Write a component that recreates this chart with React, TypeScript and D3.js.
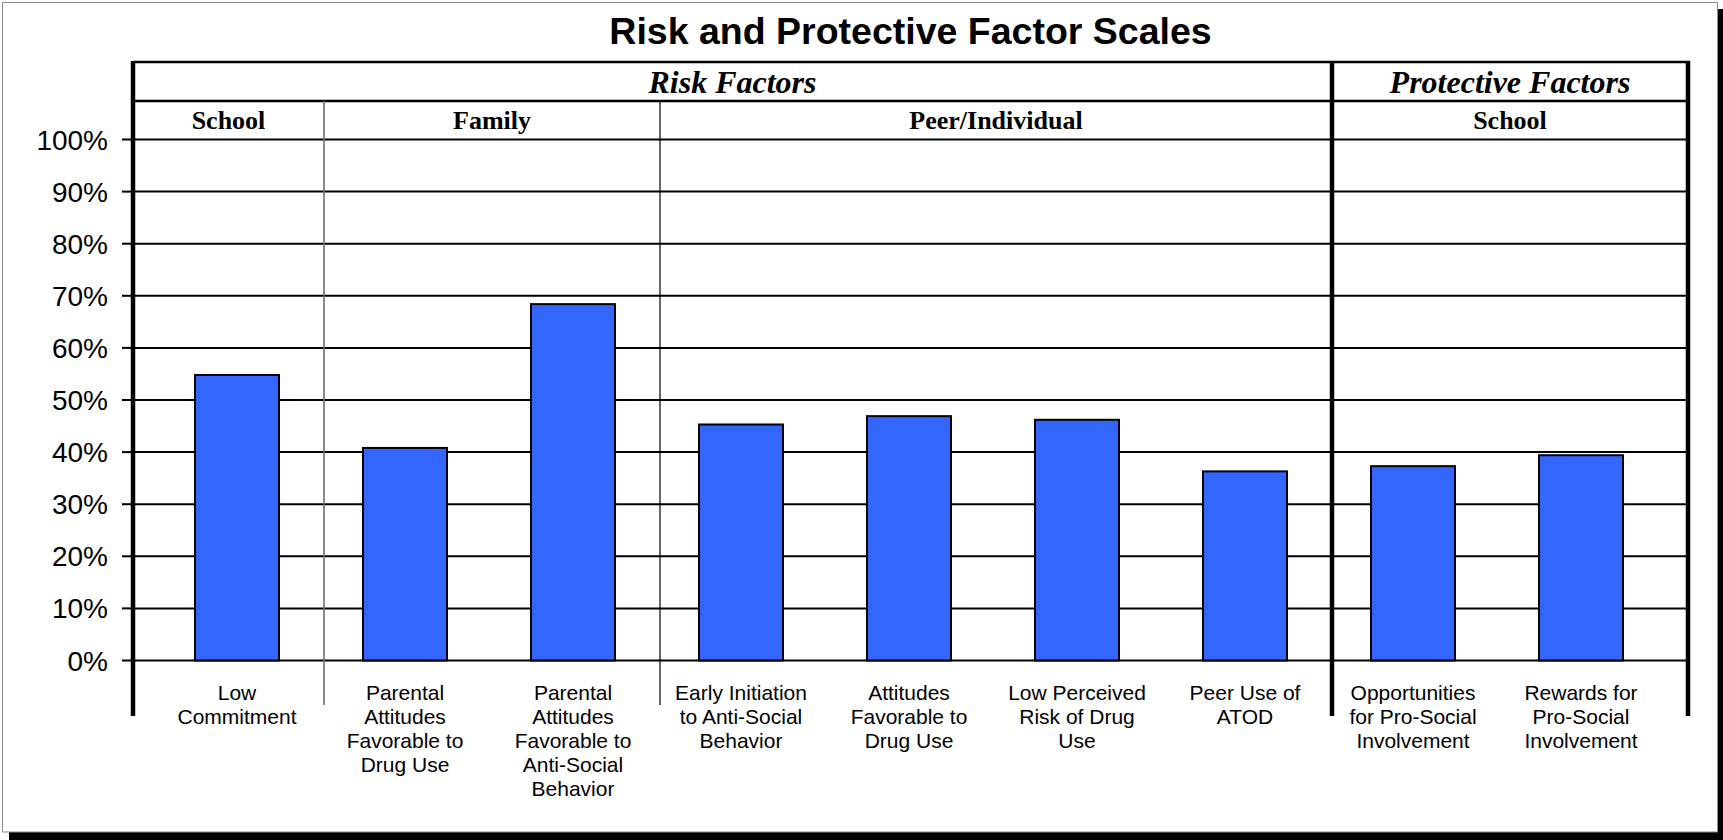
import React from "react";
import * as d3 from "d3";

const categories = [
  "Low Commitment",
  "Parental Attitudes Favorable to Drug Use",
  "Parental Attitudes Favorable to Anti-Social Behavior",
  "Early Initiation to Anti-Social Behavior",
  "Attitudes Favorable to Drug Use",
  "Low Perceived Risk of Drug Use",
  "Peer Use of ATOD",
  "Opportunities for Pro-Social Involvement",
  "Rewards for Pro-Social Involvement",
];

const categoryLines = [
  ["Low", "Commitment"],
  ["Parental", "Attitudes", "Favorable to", "Drug Use"],
  ["Parental", "Attitudes", "Favorable to", "Anti-Social", "Behavior"],
  ["Early Initiation", "to Anti-Social", "Behavior"],
  ["Attitudes", "Favorable to", "Drug Use"],
  ["Low Perceived", "Risk of Drug", "Use"],
  ["Peer Use of", "ATOD"],
  ["Opportunities", "for Pro-Social", "Involvement"],
  ["Rewards for", "Pro-Social", "Involvement"],
];

const values = [54.8, 40.8, 68.4, 45.3, 46.9, 46.2, 36.3, 37.3, 39.4];

const yTicks = [0, 10, 20, 30, 40, 50, 60, 70, 80, 90, 100];

const topGroups = [
  { label: "Risk Factors", from: 0, to: 6 },
  { label: "Protective Factors", from: 7, to: 8 },
];

const subGroups = [
  { label: "School", from: 0, to: 0 },
  { label: "Family", from: 1, to: 2 },
  { label: "Peer/Individual", from: 3, to: 6 },
  { label: "School", from: 7, to: 8 },
];

const W = 1723;
const H = 840;
const plotLeft = 133;
const plotRight = 1688;
const headerTop = 62;
const headerMid = 101;
const axisBottomExt = 716;
const sepBottomExt = 705;
const sepOffset = 3;

const SANS = "'Liberation Sans', Arial, sans-serif";
const SERIF = "'Liberation Serif', 'Times New Roman', serif";

export default function App() {
  const x = d3
    .scaleBand<string>()
    .domain(categories)
    .range([plotLeft + 20, plotRight - 23])
    .paddingInner(0.5)
    .paddingOuter(0.25);
  const y = d3.scaleLinear().domain([0, 100]).range([660.5, 139.5]);
  const bw = x.bandwidth();
  const center = (i: number) => (x(categories[i]) as number) + bw / 2;
  const boundaryBefore = (i: number) =>
    i === 0 ? plotLeft : (center(i - 1) + center(i)) / 2 + sepOffset;
  const boundaryAfter = (i: number) =>
    i === categories.length - 1 ? plotRight : (center(i) + center(i + 1)) / 2 + sepOffset;

  const thickSeps = topGroups.slice(1).map((g) => boundaryBefore(g.from));
  const thinSeps = subGroups
    .slice(1)
    .map((g) => boundaryBefore(g.from))
    .filter((v) => !thickSeps.some((t) => Math.abs(t - v) < 1));

  return (
    <svg
      width={W}
      height={H}
      style={{ position: "absolute", left: 0, top: 0 }}
      xmlns="http://www.w3.org/2000/svg"
    >
      <rect x={9} y={9} width={W - 9} height={H - 9} fill="#000" />
      <rect x={2.5} y={2.5} width={1715} height={829.5} fill="#fff" stroke="#8a8a8a" strokeWidth={1} />

      <text
        x={(plotLeft + plotRight) / 2}
        y={44}
        textAnchor="middle"
        fontFamily={SANS}
        fontWeight="bold"
        fontSize={37.5}
        fill="#000"
      >
        Risk and Protective Factor Scales
      </text>

      {/* gridlines */}
      {yTicks.map((t) => (
        <line
          key={"g" + t}
          x1={plotLeft}
          x2={plotRight}
          y1={y(t)}
          y2={y(t)}
          stroke="#000"
          strokeWidth={2}
        />
      ))}

      {/* header lines */}
      <line x1={plotLeft} x2={plotRight + 2} y1={headerTop} y2={headerTop} stroke="#000" strokeWidth={2.5} />
      <line x1={plotLeft} x2={plotRight} y1={headerMid} y2={headerMid} stroke="#000" strokeWidth={2.5} />

      {/* thin separators */}
      {thinSeps.map((sx, i) => (
        <line
          key={"ts" + i}
          x1={sx}
          x2={sx}
          y1={headerMid}
          y2={sepBottomExt}
          stroke={i === 0 ? "#6e6e6e" : "#000"}
          strokeWidth={i === 0 ? 1.6 : 1.2}
        />
      ))}

      {/* bars */}
      {values.map((v, i) => (
        <rect
          key={"b" + i}
          x={x(categories[i])}
          y={y(v)}
          width={bw}
          height={y(0) - y(v)}
          fill="#3366FF"
          stroke="#000"
          strokeWidth={2}
        />
      ))}

      {/* thick verticals */}
      <line x1={plotLeft} x2={plotLeft} y1={headerTop - 1} y2={axisBottomExt} stroke="#000" strokeWidth={4.5} />
      {thickSeps.map((sx, i) => (
        <line key={"th" + i} x1={sx} x2={sx} y1={headerTop - 1} y2={axisBottomExt} stroke="#000" strokeWidth={4.5} />
      ))}
      <line x1={plotRight} x2={plotRight} y1={headerTop - 1} y2={axisBottomExt} stroke="#000" strokeWidth={4.5} />

      {/* y ticks and labels */}
      {yTicks.map((t) => (
        <g key={"t" + t}>
          <line x1={122} x2={plotLeft} y1={y(t)} y2={y(t)} stroke="#000" strokeWidth={2} />
          <text
            x={108}
            y={y(t) + 10}
            textAnchor="end"
            fontFamily={SANS}
            fontSize={28}
            fill="#000"
          >
            {t + "%"}
          </text>
        </g>
      ))}

      {/* header texts */}
      {topGroups.map((g, i) => (
        <text
          key={"tg" + i}
          x={(boundaryBefore(g.from) + boundaryAfter(g.to)) / 2}
          y={93}
          textAnchor="middle"
          fontFamily={SERIF}
          fontStyle="italic"
          fontWeight="bold"
          fontSize={32}
          fill="#000"
        >
          {g.label}
        </text>
      ))}
      {subGroups.map((g, i) => (
        <text
          key={"sg" + i}
          x={(boundaryBefore(g.from) + boundaryAfter(g.to)) / 2}
          y={129}
          textAnchor="middle"
          fontFamily={SERIF}
          fontWeight="bold"
          fontSize={26}
          fill="#000"
        >
          {g.label}
        </text>
      ))}

      {/* category labels */}
      {categoryLines.map((lines, i) => (
        <text
          key={"c" + i}
          x={center(i)}
          y={700}
          textAnchor="middle"
          fontFamily={SANS}
          fontSize={21}
          fill="#000"
        >
          {lines.map((ln, j) => (
            <tspan key={j} x={center(i)} dy={j === 0 ? 0 : 24}>
              {ln}
            </tspan>
          ))}
        </text>
      ))}
    </svg>
  );
}
